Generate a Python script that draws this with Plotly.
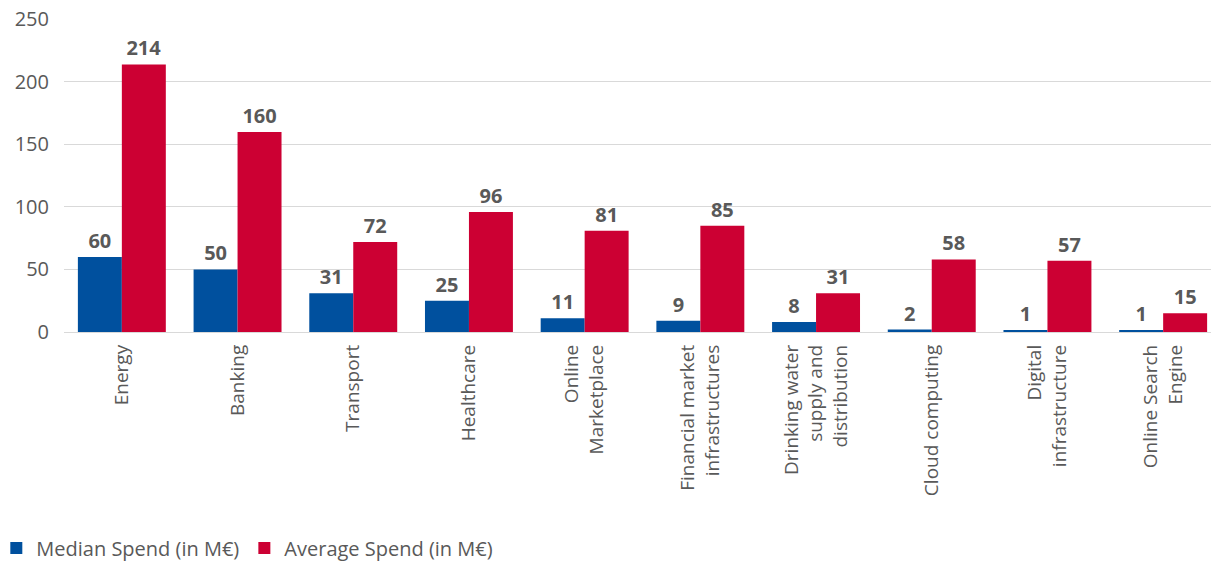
import plotly.graph_objects as go

categories = ["Energy", "Banking", "Transport", "Healthcare", "Online<br>Marketplace",
              "Financial market<br>infrastructures", "Drinking water<br>supply and<br>distribution",
              "Cloud computing", "Digital<br>infrastructure", "Online Search<br>Engine"]
median_spend = [60, 50, 31, 25, 11, 9, 8, 2, 1, 1]
average_spend = [214, 160, 72, 96, 81, 85, 31, 58, 57, 15]
y_ticks = [0, 50, 100, 150, 200, 250]

BLUE = "#00509E"
RED = "#CC0033"
GREY = "#595959"
FONT = "Open Sans"

fig = go.Figure()
fig.add_trace(go.Bar(x=categories, y=median_spend, name="Median Spend (in M€)",
                     marker=dict(color=BLUE, line=dict(width=0)),
                     text=median_spend, textposition="outside", cliponaxis=False,
                     textfont=dict(family=FONT, size=20, color=GREY, weight="bold")))
fig.add_trace(go.Bar(x=categories, y=average_spend, name="Average Spend (in M€)",
                     marker=dict(color=RED, line=dict(width=0)),
                     text=average_spend, textposition="outside", cliponaxis=False,
                     textfont=dict(family=FONT, size=20, color=GREY, weight="bold")))

fig.update_layout(
    width=1219, height=563,
    margin=dict(l=56, r=6, t=11, b=239, autoexpand=False),
    paper_bgcolor="white", plot_bgcolor="white",
    barmode="group", bargap=0.24, bargroupgap=0,
    font=dict(family=FONT, color=GREY),
    showlegend=True,
    legend=dict(orientation="h", xref="paper", yref="container",
                x=-0.0585, y=0.006, xanchor="left", yanchor="bottom",
                font=dict(family=FONT, size=20, color=GREY),
                itemwidth=30, traceorder="normal"),
    xaxis=dict(tickangle=-90, tickfont=dict(family=FONT, size=19, color=GREY),
               showline=False, showgrid=False, ticks="", ticklabelstandoff=8,
               automargin=False),
    yaxis=dict(range=[0, 250.3], tickvals=y_ticks, showgrid=True, gridcolor="#D9D9D9",
               gridwidth=1, zeroline=True, zerolinecolor="#D9D9D9", zerolinewidth=1,
               tickfont=dict(family=FONT, size=20, color=GREY), ticks="", ticklen=0,
               ticklabelstandoff=14, ticklabeloverflow="allow", automargin=False),
    uniformtext=dict(mode=False),
)

fig.write_html("out.html")
